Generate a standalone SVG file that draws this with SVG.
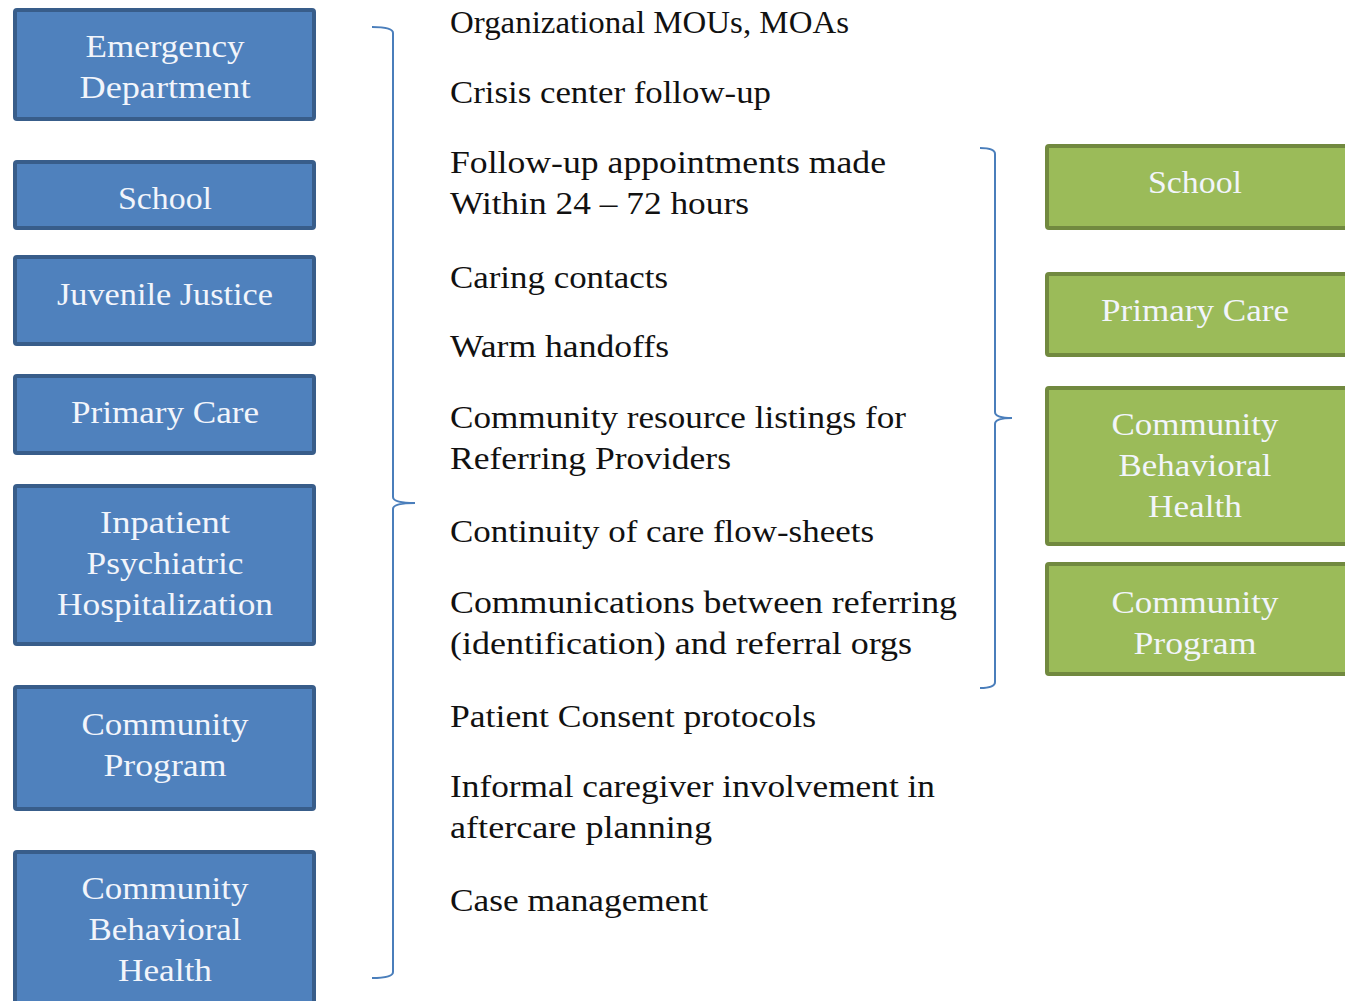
<svg xmlns="http://www.w3.org/2000/svg" width="1345" height="1001" viewBox="0 0 1345 1001">
<style>
.b{fill:#4f81bd;stroke:#385d8a;stroke-width:4}
.g{fill:#9bbb59;stroke:#71893f;stroke-width:4}
.t{font-family:"Liberation Serif","DejaVu Serif",serif;font-size:31px;fill:#f2f5fb;text-anchor:middle}
.m{font-family:"Liberation Serif","DejaVu Serif",serif;font-size:31px;fill:#111}
.br{fill:none;stroke:#4a7ebb;stroke-width:2}
</style>
<rect width="1345" height="1001" fill="#fff"/>
<g id="ed"><rect class="b" x="15" y="10" width="299" height="109" rx="2"/><text class="t" x="165" y="57" textLength="159" lengthAdjust="spacingAndGlyphs">Emergency</text><text class="t" x="165" y="98" textLength="171" lengthAdjust="spacingAndGlyphs">Department</text></g>
<g id="school-l"><rect class="b" x="15" y="162" width="299" height="66" rx="2"/><text class="t" x="165" y="209" textLength="94" lengthAdjust="spacingAndGlyphs">School</text></g>
<g id="jj"><rect class="b" x="15" y="257" width="299" height="87" rx="2"/><text class="t" x="165" y="305" textLength="216" lengthAdjust="spacingAndGlyphs">Juvenile Justice</text></g>
<g id="pc-l"><rect class="b" x="15" y="376" width="299" height="77" rx="2"/><text class="t" x="165" y="423" textLength="188" lengthAdjust="spacingAndGlyphs">Primary Care</text></g>
<g id="iph"><rect class="b" x="15" y="486" width="299" height="158" rx="2"/><text class="t" x="165" y="533" textLength="130" lengthAdjust="spacingAndGlyphs">Inpatient</text><text class="t" x="165" y="574" textLength="157" lengthAdjust="spacingAndGlyphs">Psychiatric</text><text class="t" x="165" y="615" textLength="216" lengthAdjust="spacingAndGlyphs">Hospitalization</text></g>
<g id="cp-l"><rect class="b" x="15" y="687" width="299" height="122" rx="2"/><text class="t" x="165" y="735" textLength="167" lengthAdjust="spacingAndGlyphs">Community</text><text class="t" x="165" y="776" textLength="123" lengthAdjust="spacingAndGlyphs">Program</text></g>
<g id="cbh-l"><rect class="b" x="15" y="852" width="299" height="160" rx="2"/><text class="t" x="165" y="899" textLength="167" lengthAdjust="spacingAndGlyphs">Community</text><text class="t" x="165" y="940" textLength="153" lengthAdjust="spacingAndGlyphs">Behavioral</text><text class="t" x="165" y="981" textLength="94" lengthAdjust="spacingAndGlyphs">Health</text></g>
<g id="connectors">
<path class="br" d="M372 27 Q393 27 393 33 L393 497 Q393 503 415 503 Q393 503 393 509 L393 972 Q393 978 372 978"/>
<path class="br" d="M980 148 Q995 148 995 154 L995 412 Q995 418 1012 418 Q995 418 995 424 L995 682 Q995 688 980 688"/>
</g>
<g id="items">
<text class="m" x="450" y="33" textLength="399" lengthAdjust="spacingAndGlyphs">Organizational MOUs, MOAs</text>
<text class="m" x="450" y="103" textLength="321" lengthAdjust="spacingAndGlyphs">Crisis center follow-up</text>
<text class="m" x="450" y="173" textLength="436" lengthAdjust="spacingAndGlyphs">Follow-up appointments made</text>
<text class="m" x="450" y="214" textLength="299" lengthAdjust="spacingAndGlyphs">Within 24 – 72 hours</text>
<text class="m" x="450" y="288" textLength="218" lengthAdjust="spacingAndGlyphs">Caring contacts</text>
<text class="m" x="450" y="357" textLength="219" lengthAdjust="spacingAndGlyphs">Warm handoffs</text>
<text class="m" x="450" y="428" textLength="456" lengthAdjust="spacingAndGlyphs">Community resource listings for</text>
<text class="m" x="450" y="469" textLength="281" lengthAdjust="spacingAndGlyphs">Referring Providers</text>
<text class="m" x="450" y="542" textLength="424" lengthAdjust="spacingAndGlyphs">Continuity of care flow-sheets</text>
<text class="m" x="450" y="613" textLength="507" lengthAdjust="spacingAndGlyphs">Communications between referring</text>
<text class="m" x="450" y="654" textLength="462" lengthAdjust="spacingAndGlyphs">(identification) and referral orgs</text>
<text class="m" x="450" y="727" textLength="366" lengthAdjust="spacingAndGlyphs">Patient Consent protocols</text>
<text class="m" x="450" y="797" textLength="485" lengthAdjust="spacingAndGlyphs">Informal caregiver involvement in</text>
<text class="m" x="450" y="838" textLength="262" lengthAdjust="spacingAndGlyphs">aftercare planning</text>
<text class="m" x="450" y="911" textLength="258" lengthAdjust="spacingAndGlyphs">Case management</text>
</g>
<g id="school-r"><rect class="g" x="1047" y="146" width="310" height="82" rx="2"/><text class="t" x="1195" y="193" textLength="94" lengthAdjust="spacingAndGlyphs">School</text></g>
<g id="pc-r"><rect class="g" x="1047" y="274" width="310" height="81" rx="2"/><text class="t" x="1195" y="321" textLength="188" lengthAdjust="spacingAndGlyphs">Primary Care</text></g>
<g id="cbh-r"><rect class="g" x="1047" y="388" width="310" height="156" rx="2"/><text class="t" x="1195" y="435" textLength="167" lengthAdjust="spacingAndGlyphs">Community</text><text class="t" x="1195" y="476" textLength="153" lengthAdjust="spacingAndGlyphs">Behavioral</text><text class="t" x="1195" y="517" textLength="94" lengthAdjust="spacingAndGlyphs">Health</text></g>
<g id="cp-r"><rect class="g" x="1047" y="564" width="310" height="110" rx="2"/><text class="t" x="1195" y="613" textLength="167" lengthAdjust="spacingAndGlyphs">Community</text><text class="t" x="1195" y="654" textLength="123" lengthAdjust="spacingAndGlyphs">Program</text></g>
</svg>
